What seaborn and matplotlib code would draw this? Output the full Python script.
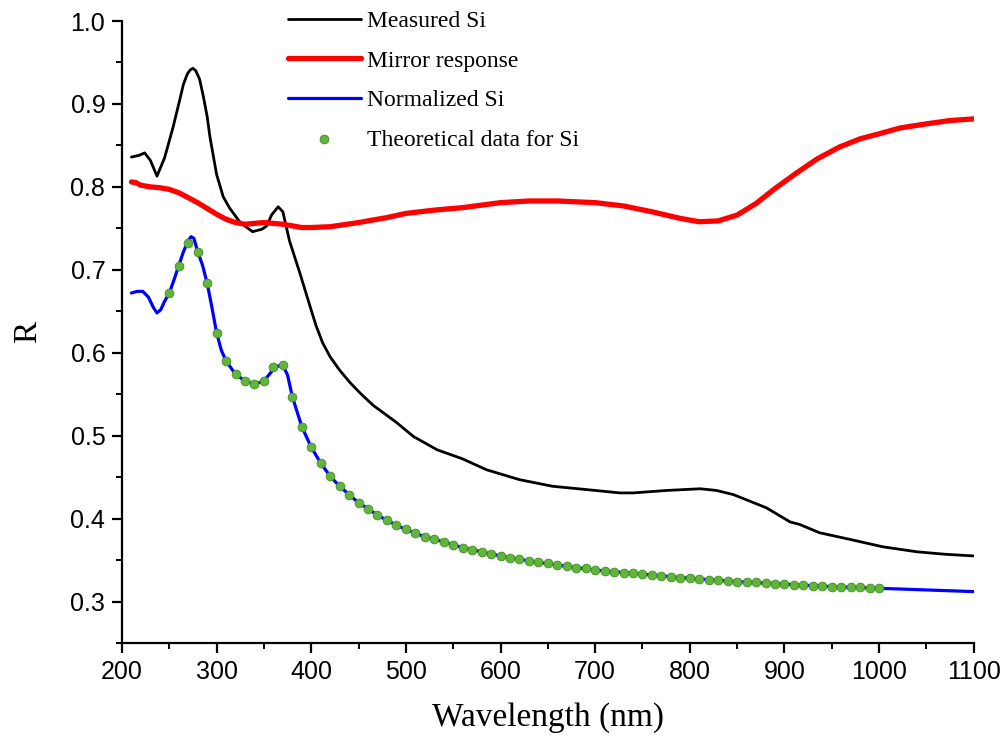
import matplotlib
matplotlib.use("Agg")
import matplotlib.pyplot as plt
import seaborn as sns
from matplotlib.ticker import MultipleLocator

# ---------------- data ----------------
measured_nm = [210, 218, 224, 230, 237, 245, 254, 260, 265, 269, 272, 275, 278, 282, 286, 290, 293, 300, 307,
               314, 325, 338, 348, 353, 358, 365, 370, 377, 388, 399, 405, 412, 420, 430, 441, 452, 465, 490,
               508, 533, 560, 585, 620, 655, 691, 726, 740, 776, 811, 828, 846, 881, 906, 916, 937, 969, 1004,
               1040, 1070, 1100]
measured_R = [0.836, 0.838, 0.841, 0.832, 0.813, 0.835, 0.872, 0.900, 0.924, 0.936, 0.941, 0.943, 0.940, 0.930,
              0.909, 0.885, 0.860, 0.815, 0.788, 0.774, 0.757, 0.746, 0.749, 0.753, 0.766, 0.776, 0.770, 0.735,
              0.696, 0.655, 0.633, 0.612, 0.595, 0.579, 0.564, 0.551, 0.537, 0.516, 0.499, 0.483, 0.472, 0.459,
              0.447, 0.439, 0.435, 0.431, 0.431, 0.434, 0.436, 0.434, 0.429, 0.413, 0.396, 0.393, 0.383, 0.375,
              0.366, 0.360, 0.357, 0.355]

mirror_nm = [210, 215, 220, 230, 240, 250, 260, 270, 280, 290, 300, 310, 320, 330, 340, 350, 360, 370, 380, 390,
             400, 420, 450, 480, 500, 530, 560, 600, 630, 660, 700, 730, 760, 790, 810, 830, 850, 870, 890, 913,
             935, 958, 980, 1000, 1022, 1050, 1075, 1100]
mirror_R = [0.806, 0.805, 0.802, 0.800, 0.799, 0.797, 0.793, 0.787, 0.781, 0.774, 0.767, 0.761, 0.757, 0.755,
            0.756, 0.757, 0.756, 0.755, 0.753, 0.751, 0.751, 0.752, 0.757, 0.763, 0.768, 0.772, 0.775, 0.781,
            0.783, 0.783, 0.781, 0.777, 0.770, 0.762, 0.758, 0.759, 0.766, 0.780, 0.798, 0.817, 0.834, 0.848,
            0.858, 0.864, 0.871, 0.876, 0.880, 0.882]

normalized_nm = [210, 216, 222, 228, 233, 237, 241, 245, 250, 255, 260, 265, 270, 273, 276, 280, 285, 290, 295,
                 300, 305, 310, 320, 330, 340, 350, 360, 365, 370, 375, 380, 390, 400, 410, 420, 430, 440, 450,
                 460, 470, 480, 490, 500, 520, 540, 560, 580, 600, 630, 660, 700, 750, 800, 850, 900, 950, 1000,
                 1050, 1100]
normalized_R = [0.672, 0.674, 0.674, 0.667, 0.655, 0.648, 0.652, 0.662, 0.672, 0.688, 0.705, 0.722, 0.735, 0.740,
                0.738, 0.722, 0.706, 0.684, 0.655, 0.624, 0.603, 0.590, 0.574, 0.566, 0.562, 0.566, 0.580, 0.584,
                0.585, 0.573, 0.547, 0.511, 0.486, 0.467, 0.451, 0.439, 0.429, 0.419, 0.412, 0.404, 0.398, 0.392,
                0.387, 0.378, 0.372, 0.365, 0.360, 0.355, 0.349, 0.344, 0.338, 0.333, 0.328, 0.324, 0.321, 0.318,
                0.316, 0.314, 0.312]

theory_nm = list(range(250, 1001, 10))
theory_R = [0.672, 0.705, 0.732, 0.722, 0.684, 0.624, 0.590, 0.574, 0.566, 0.562, 0.566, 0.583, 0.585, 0.547,
            0.511, 0.486, 0.467, 0.451, 0.439, 0.429, 0.419, 0.412, 0.404, 0.398, 0.392, 0.387, 0.383, 0.378,
            0.375, 0.372, 0.368, 0.365, 0.362, 0.360, 0.357, 0.355, 0.353, 0.351, 0.349, 0.348, 0.346, 0.344,
            0.343, 0.341, 0.340, 0.338, 0.337, 0.336, 0.335, 0.334, 0.333, 0.332, 0.331, 0.330, 0.329, 0.328,
            0.327, 0.326, 0.326, 0.325, 0.324, 0.323, 0.323, 0.322, 0.321, 0.321, 0.320, 0.320, 0.319, 0.319,
            0.318, 0.318, 0.317, 0.317, 0.316, 0.316]

labels = ["Measured Si", "Mirror response", "Normalized Si", "Theoretical data for Si"]
xticks = [200, 300, 400, 500, 600, 700, 800, 900, 1000, 1100]
yticks = [0.3, 0.4, 0.5, 0.6, 0.7, 0.8, 0.9, 1.0]

# ---------------- style ----------------
sns.set_style("ticks")
plt.rcParams["font.family"] = ["Liberation Sans", "DejaVu Sans"]
plt.rcParams["text.color"] = "black"
plt.rcParams["axes.labelcolor"] = "black"
serif = ["Liberation Serif", "DejaVu Serif"]

fig = plt.figure(figsize=(10.08, 7.38), dpi=100)
ax = fig.add_axes([0.121, 0.1287, 0.845, 0.8428])

sns.lineplot(x=measured_nm, y=measured_R, ax=ax, color="black", lw=2.0, sort=False, estimator=None,
             label=labels[0])
sns.lineplot(x=mirror_nm, y=mirror_R, ax=ax, color="#ff0000", lw=3.8, sort=False, estimator=None,
             label=labels[1])
sns.lineplot(x=normalized_nm, y=normalized_R, ax=ax, color="#0000ff", lw=2.3, sort=False, estimator=None,
             label=labels[2])
sns.scatterplot(x=theory_nm, y=theory_R, ax=ax, color="#62b53a", edgecolor="#3e8f25", linewidth=0.6, s=40,
                zorder=5, label=labels[3])

ax.set_xlim(200, 1100)
ax.set_ylim(0.25, 1.0)
ax.set_xticks(xticks)
ax.set_yticks(yticks)
ax.set_yticklabels([f"{v:.1f}" for v in yticks])
ax.xaxis.set_minor_locator(MultipleLocator(50))
ax.yaxis.set_minor_locator(MultipleLocator(0.05))

for side in ["top", "right"]:
    ax.spines[side].set_visible(False)
for side in ["left", "bottom"]:
    ax.spines[side].set_linewidth(1.6)
    ax.spines[side].set_color("black")

ax.tick_params(axis="both", which="major", direction="out", length=7, width=1.6, labelsize=18,
               colors="black", pad=5)
ax.tick_params(axis="both", which="minor", direction="out", length=4, width=1.4, colors="black")

ax.set_xlabel("Wavelength (nm)", fontsize=24, family=serif, labelpad=13, color="black")
ax.set_ylabel("R", fontsize=24, family=serif, labelpad=20, color="black")

handles, lbls = ax.get_legend_handles_labels()
leg = ax.legend(handles, lbls, loc="upper left", bbox_to_anchor=(283 / 1008, 1 - 6 / 738),
                bbox_transform=fig.transFigure, frameon=False, prop={"family": serif, "size": 17},
                handlelength=3.1, handletextpad=0.25, labelspacing=0.76, borderpad=0.2, borderaxespad=0,
                markerscale=1.0)
for t in leg.get_texts():
    t.set_color("black")

fig.savefig("out.png", dpi=100)
